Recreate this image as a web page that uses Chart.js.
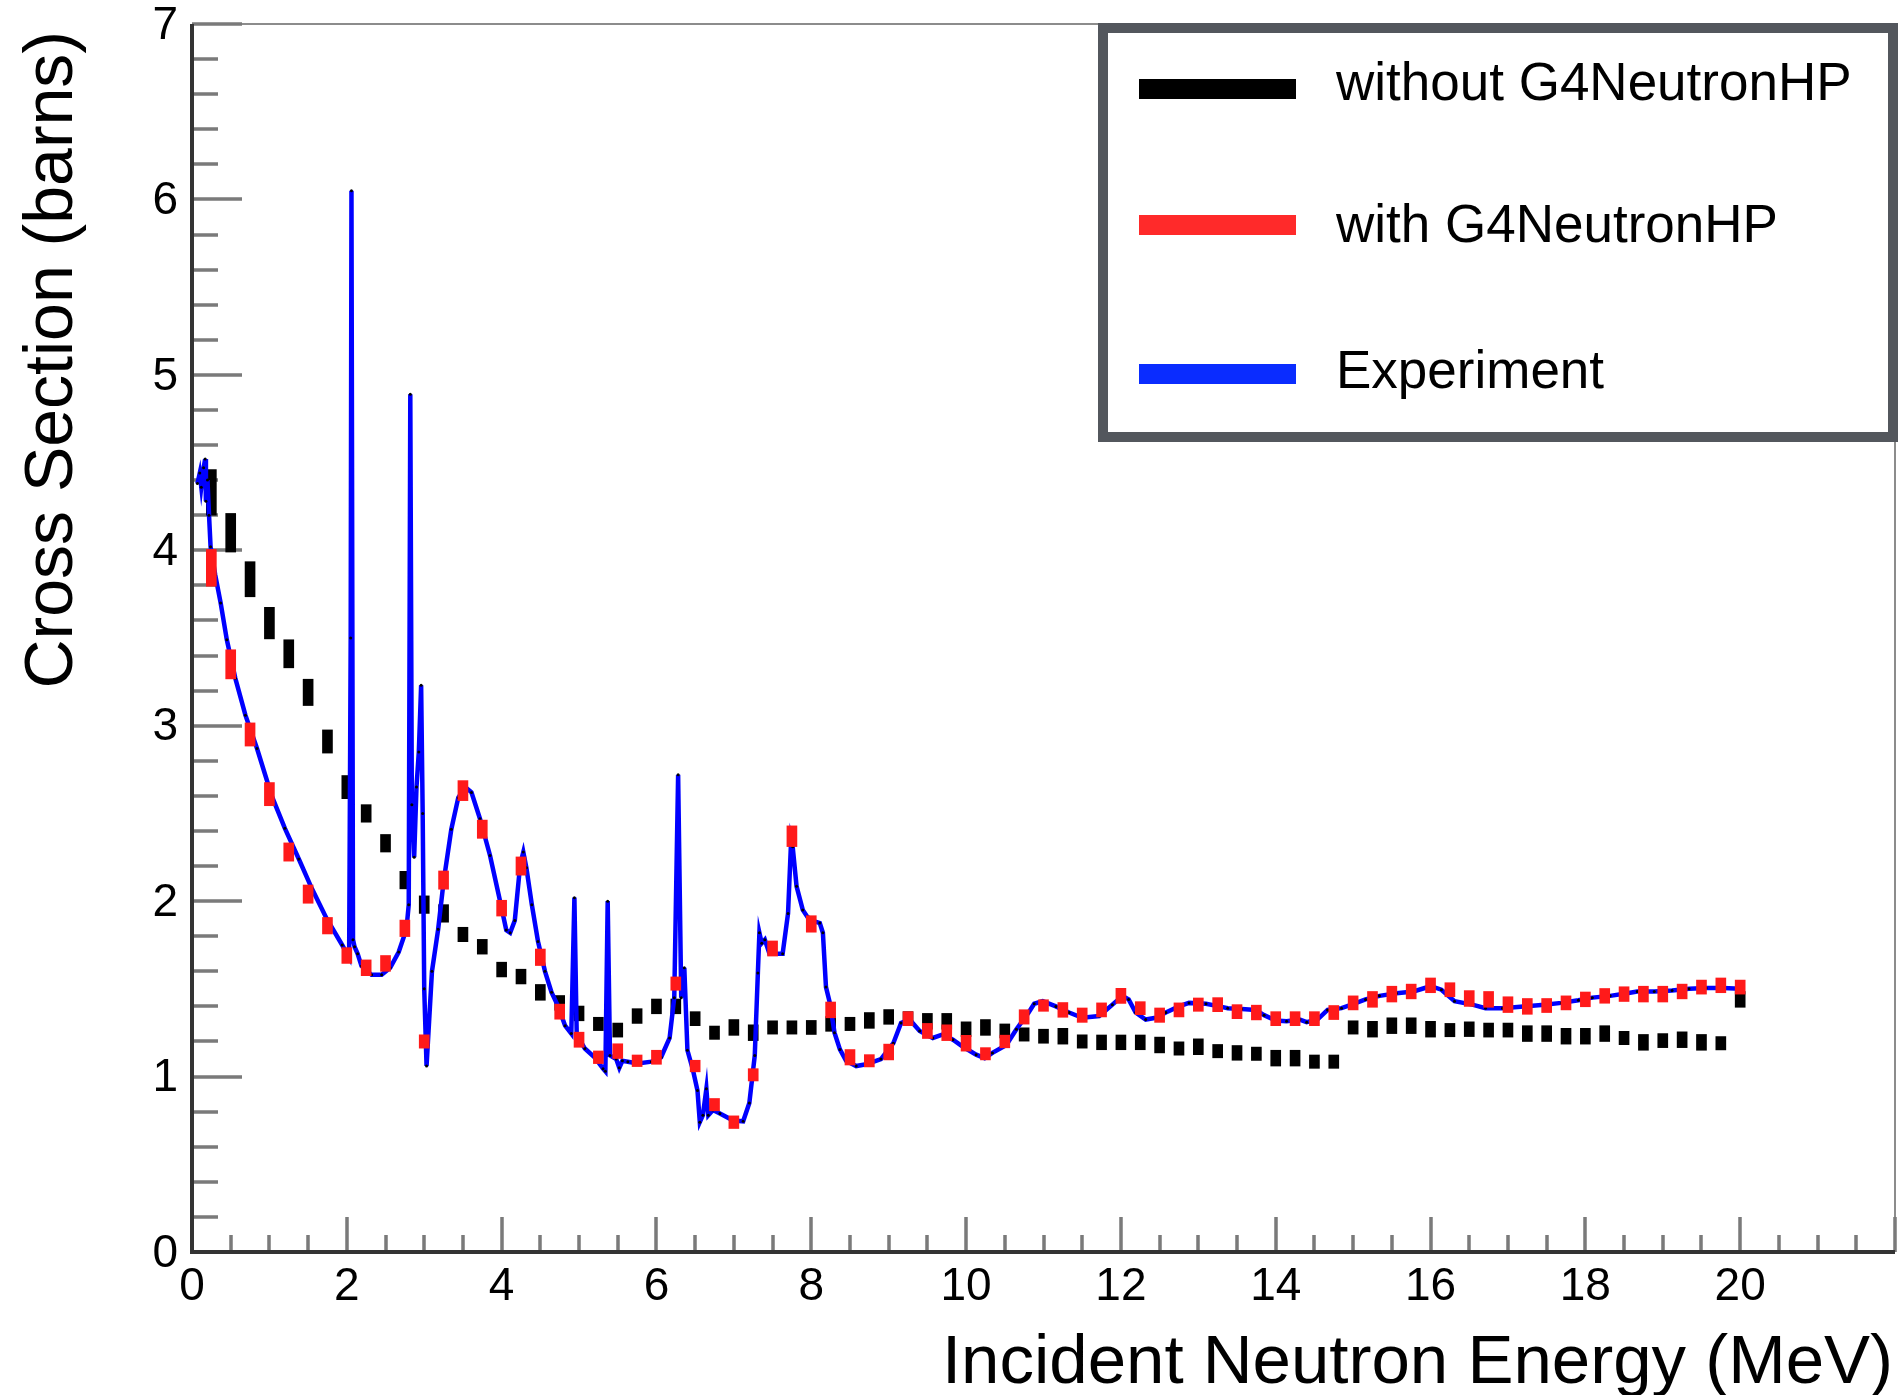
<!DOCTYPE html>
<html>
<head>
<meta charset="utf-8">
<title>Cross Section vs Incident Neutron Energy</title>
<script src="https://cdn.jsdelivr.net/npm/chart.js@4.4.0/dist/chart.umd.min.js"></script>
<style>
  html, body { margin: 0; padding: 0; background: #fff; }
  canvas { display: block; }
</style>
</head>
<body>
<canvas id="xsChart" width="1903" height="1395"></canvas>
<script>
// bin centres (MeV) shared by both simulated series
const binE = [
  0.25, 0.5, 0.75, 1.0, 1.25, 1.5, 1.75, 2.0, 2.25, 2.5, 2.75, 3.0, 3.25, 3.5, 3.75, 4.0,
  4.25, 4.5, 4.75, 5.0, 5.25, 5.5, 5.75, 6.0, 6.25, 6.5, 6.75, 7.0, 7.25, 7.5, 7.75, 8.0,
  8.25, 8.5, 8.75, 9.0, 9.25, 9.5, 9.75, 10.0, 10.25, 10.5, 10.75, 11.0, 11.25, 11.5, 11.75, 12.0,
  12.25, 12.5, 12.75, 13.0, 13.25, 13.5, 13.75, 14.0, 14.25, 14.5, 14.75, 15.0, 15.25, 15.5, 15.75, 16.0,
  16.25, 16.5, 16.75, 17.0, 17.25, 17.5, 17.75, 18.0, 18.25, 18.5, 18.75, 19.0, 19.25, 19.5, 19.75, 20.0
];

// without G4NeutronHP (barns) and its errors
const noHpXs = [
  4.33, 4.10, 3.835, 3.585, 3.41, 3.19, 2.91, 2.65, 2.50, 2.33, 2.12, 1.98, 1.93, 1.81, 1.74, 1.61,
  1.57, 1.48, 1.42, 1.36, 1.30, 1.265, 1.345, 1.40, 1.40, 1.33, 1.25, 1.28, 1.25, 1.28, 1.28, 1.28,
  1.30, 1.30, 1.32, 1.34, 1.33, 1.315, 1.315, 1.27, 1.28, 1.26, 1.24, 1.23, 1.23, 1.20, 1.195, 1.195,
  1.195, 1.18, 1.16, 1.17, 1.145, 1.135, 1.13, 1.105, 1.105, 1.085, 1.085, 1.28, 1.27, 1.29, 1.29, 1.27,
  1.265, 1.27, 1.265, 1.265, 1.245, 1.245, 1.23, 1.23, 1.245, 1.22, 1.195, 1.205, 1.21, 1.195, 1.19, 1.44
];
const noHpErr = [
  0.13, 0.11, 0.10, 0.09, 0.08, 0.075, 0.066, 0.066, 0.05, 0.05, 0.05, 0.05, 0.05, 0.041, 0.042, 0.042,
  0.042, 0.045, 0.042, 0.042, 0.038, 0.04, 0.042, 0.042, 0.042, 0.04, 0.038, 0.045, 0.045, 0.038, 0.038, 0.04,
  0.042, 0.038, 0.045, 0.042, 0.04, 0.045, 0.045, 0.042, 0.045, 0.04, 0.038, 0.04, 0.045, 0.038, 0.042, 0.042,
  0.042, 0.045, 0.038, 0.045, 0.038, 0.042, 0.038, 0.045, 0.045, 0.038, 0.038, 0.038, 0.045, 0.045, 0.045, 0.045,
  0.038, 0.042, 0.04, 0.04, 0.045, 0.045, 0.045, 0.045, 0.045, 0.038, 0.045, 0.04, 0.045, 0.045, 0.038, 0.045
];

// with G4NeutronHP (barns) and its errors
const hpXs = [
  3.90, 3.35, 2.95, 2.61, 2.28, 2.04, 1.86, 1.69, 1.62, 1.645, 1.845, 1.20, 2.12, 2.63, 2.41, 1.96,
  2.20, 1.68, 1.37, 1.21, 1.11, 1.145, 1.09, 1.11, 1.53, 1.06, 0.84, 0.74, 1.01, 1.73, 2.37, 1.87,
  1.38, 1.11, 1.09, 1.14, 1.33, 1.26, 1.25, 1.19, 1.13, 1.20, 1.34, 1.405, 1.38, 1.35, 1.38, 1.46,
  1.39, 1.35, 1.38, 1.41, 1.41, 1.37, 1.365, 1.33, 1.33, 1.33, 1.365, 1.42, 1.44, 1.47, 1.485, 1.52,
  1.495, 1.445, 1.44, 1.41, 1.40, 1.405, 1.42, 1.44, 1.46, 1.47, 1.47, 1.47, 1.485, 1.51, 1.52, 1.51
];
const hpErr = [
  0.105, 0.083, 0.066, 0.066, 0.052, 0.052, 0.047, 0.045, 0.045, 0.045, 0.047, 0.038, 0.052, 0.057, 0.052, 0.045,
  0.052, 0.047, 0.043, 0.043, 0.036, 0.042, 0.033, 0.04, 0.038, 0.033, 0.035, 0.036, 0.035, 0.043, 0.059, 0.047,
  0.045, 0.044, 0.035, 0.045, 0.04, 0.043, 0.045, 0.045, 0.035, 0.036, 0.041, 0.033, 0.042, 0.041, 0.04, 0.043,
  0.037, 0.041, 0.04, 0.038, 0.04, 0.04, 0.042, 0.04, 0.04, 0.04, 0.04, 0.04, 0.045, 0.045, 0.042, 0.042,
  0.04, 0.045, 0.045, 0.045, 0.045, 0.04, 0.04, 0.042, 0.042, 0.042, 0.045, 0.045, 0.042, 0.04, 0.042, 0.04
];

// measured cross section
const expE = [
  0.07, 0.10, 0.12, 0.15, 0.17, 0.18, 0.20, 0.22, 0.24, 0.30, 0.37, 0.45, 0.56, 0.69, 0.84, 1.03,
  1.20, 1.38, 1.55, 1.74, 1.94, 2.03, 2.05, 2.06, 2.08, 2.10, 2.14, 2.19, 2.32, 2.45, 2.56, 2.67,
  2.77, 2.80, 2.82, 2.84, 2.87, 2.90, 2.93, 2.96, 2.98, 3.00, 3.03, 3.10, 3.18, 3.25, 3.35, 3.44,
  3.53, 3.61, 3.72, 3.85, 3.98, 4.06, 4.11, 4.17, 4.24, 4.28, 4.32, 4.39, 4.47, 4.56, 4.645, 4.73,
  4.82, 4.90, 4.94, 4.97, 5.075, 5.20, 5.31, 5.34, 5.37, 5.40, 5.48, 5.52, 5.56, 5.63, 5.76, 5.935,
  6.06, 6.17, 6.23, 6.28, 6.32, 6.36, 6.40, 6.47, 6.53, 6.56, 6.60, 6.645, 6.67, 6.73, 6.82, 6.99,
  7.12, 7.20, 7.27, 7.31, 7.33, 7.36, 7.40, 7.46, 7.63, 7.70, 7.74, 7.76, 7.81, 7.89, 7.95, 8.04,
  8.11, 8.15, 8.19, 8.24, 8.30, 8.37, 8.45, 8.58, 8.71, 8.90, 9.06, 9.16, 9.27, 9.40, 9.57, 9.70,
  9.83, 9.96, 10.13, 10.24, 10.34, 10.52, 10.65, 10.80, 10.88, 10.99, 11.16, 11.33, 11.50, 11.72, 11.89, 12.02,
  12.10, 12.19, 12.32, 12.45, 12.58, 12.75, 12.88, 13.10, 13.27, 13.38, 13.56, 13.74, 13.85, 14.00, 14.14, 14.31,
  14.40, 14.54, 14.67, 14.85, 14.98, 15.16, 15.34, 15.56, 15.78, 16.00, 16.14, 16.31, 16.54, 16.71, 16.93, 17.20,
  17.47, 17.69, 17.91, 18.09, 18.32, 18.54, 18.67, 18.89, 19.12, 19.34, 19.56, 19.78, 20.00
];
const expXs = [
  4.38, 4.44, 4.36, 4.47, 4.52, 4.28, 4.40, 4.20, 4.02, 3.86, 3.70, 3.49, 3.27, 3.06, 2.87, 2.60,
  2.415, 2.24, 2.07, 1.90, 1.75, 1.68, 3.50, 6.05, 1.78, 1.74, 1.70, 1.63, 1.58, 1.58, 1.62, 1.71,
  1.84, 1.98, 4.89, 2.55, 2.25, 2.65, 2.85, 3.23, 2.50, 1.50, 1.06, 1.60, 1.84, 2.11, 2.41, 2.59,
  2.65, 2.62, 2.47, 2.26, 2.00, 1.835, 1.82, 1.89, 2.21, 2.28, 2.19, 1.98, 1.77, 1.60, 1.48, 1.40,
  1.29, 1.245, 2.02, 1.24, 1.16, 1.11, 1.045, 1.03, 2.00, 1.12, 1.10, 1.05, 1.09, 1.085, 1.075, 1.085,
  1.11, 1.22, 1.45, 2.72, 1.45, 1.62, 1.15, 1.04, 0.92, 0.74, 0.78, 0.93, 0.78, 0.81, 0.79, 0.75,
  0.745, 0.85, 1.12, 1.59, 1.82, 1.76, 1.78, 1.70, 1.70, 1.93, 2.35, 2.31, 2.085, 1.95, 1.91, 1.885,
  1.875, 1.82, 1.51, 1.42, 1.25, 1.155, 1.09, 1.06, 1.07, 1.10, 1.19, 1.305, 1.325, 1.26, 1.22, 1.24,
  1.21, 1.17, 1.125, 1.105, 1.135, 1.18, 1.27, 1.36, 1.415, 1.43, 1.40, 1.365, 1.335, 1.345, 1.41, 1.46,
  1.44, 1.365, 1.325, 1.335, 1.365, 1.40, 1.42, 1.415, 1.40, 1.39, 1.385, 1.38, 1.35, 1.32, 1.315, 1.325,
  1.31, 1.325, 1.38, 1.39, 1.41, 1.44, 1.46, 1.475, 1.485, 1.515, 1.495, 1.43, 1.41, 1.39, 1.39, 1.40,
  1.41, 1.42, 1.435, 1.45, 1.46, 1.475, 1.485, 1.485, 1.49, 1.50, 1.505, 1.505, 1.50
];

const xMajorTicks = [0, 2, 4, 6, 8, 10, 12, 14, 16, 18, 20];
const yMajorTicks = [0, 1, 2, 3, 4, 5, 6, 7];

const seriesLabels = ['without G4NeutronHP', 'with G4NeutronHP', 'Experiment'];
const keyColours = ['#000000', '#ff2a2a', '#0a2cff'];
const xTitle = 'Incident Neutron Energy (MeV)';
const yTitle = 'Cross Section (barns)';

const FONT = "'Liberation Sans', Arial, Helvetica, sans-serif";
Chart.defaults.font.family = FONT;
Chart.defaults.color = '#000';

// error bars as floating bars [v - err, v + err]
const errBars = (vals, errs) => binE.map((e, i) => ({ x: e, y: [vals[i] - errs[i], vals[i] + errs[i]] }));

// ROOT-like frame: inward ticks, dark axes, thin grey top/right, labels, boxed key
const rootFrame = {
  id: 'rootFrame',
  beforeDatasetsDraw(chart) {
    const { ctx, chartArea: { left, right, top, bottom }, scales: { x, y } } = chart;
    ctx.save();
    ctx.strokeStyle = '#8c8c8c';
    ctx.lineWidth = 2;
    ctx.beginPath();
    ctx.moveTo(left, top);
    ctx.lineTo(right, top);
    ctx.lineTo(right, bottom);
    ctx.stroke();

    // 5 divisions per unit on y, 4 per 2 MeV on x
    ctx.strokeStyle = '#7a7a7a';
    ctx.lineWidth = 3.5;
    ctx.beginPath();
    for (let i = 0; i <= 35; i++) {
      const py = Math.round(y.getPixelForValue(i / 5));
      const len = i % 5 === 0 ? 50 : 26;
      ctx.moveTo(left, py);
      ctx.lineTo(left + len, py);
    }
    for (let i = 0; i <= 44; i++) {
      const px = Math.round(x.getPixelForValue(i / 2));
      const len = i % 4 === 0 ? 35 : 17;
      ctx.moveTo(px, bottom);
      ctx.lineTo(px, bottom - len);
    }
    ctx.stroke();

    ctx.strokeStyle = '#333';
    ctx.lineWidth = 4;
    ctx.beginPath();
    ctx.moveTo(left, top);
    ctx.lineTo(left, bottom);
    ctx.lineTo(right, bottom);
    ctx.stroke();

    // tick labels
    ctx.fillStyle = '#000';
    ctx.font = '46px ' + FONT;
    ctx.textBaseline = 'middle';
    ctx.textAlign = 'right';
    yMajorTicks.forEach(v => ctx.fillText(String(v), left - 14, y.getPixelForValue(v) + 2));
    ctx.textAlign = 'center';
    xMajorTicks.forEach(v => ctx.fillText(String(v), x.getPixelForValue(v), bottom + 35));

    // axis titles, both pushed to the far end of their axis
    ctx.textBaseline = 'alphabetic';
    ctx.textAlign = 'right';
    ctx.font = '69px ' + FONT;
    ctx.fillText(xTitle, right - 2, bottom + 131);
    ctx.translate(72, top + 7);
    ctx.rotate(-Math.PI / 2);
    ctx.font = '68px ' + FONT;
    ctx.fillText(yTitle, 0, 0);
    ctx.restore();
  },
  afterDraw(chart) {
    const { ctx } = chart;
    ctx.save();
    ctx.fillStyle = '#fff';
    ctx.fillRect(1103, 28, 790, 409);
    ctx.strokeStyle = '#53575d';
    ctx.lineWidth = 10;
    ctx.strokeRect(1103, 28, 790, 409);

    const swatchY = [89, 225, 374];
    const textY = [100, 242, 388];
    ctx.font = '53px ' + FONT;
    ctx.textAlign = 'left';
    ctx.textBaseline = 'alphabetic';
    seriesLabels.forEach((label, i) => {
      ctx.fillStyle = keyColours[i];
      ctx.fillRect(1139, swatchY[i] - 10, 157, 20);
      ctx.fillStyle = '#000';
      ctx.fillText(label, 1336, textY[i]);
    });
    ctx.restore();
  }
};

new Chart(document.getElementById('xsChart'), {
  type: 'line',
  data: {
    datasets: [
      {
        type: 'bar',
        label: seriesLabels[0],
        data: errBars(noHpXs, noHpErr),
        backgroundColor: '#000',
        barThickness: 10,
        grouped: false,
        borderWidth: 0,
        order: 3
      },
      {
        type: 'bar',
        label: seriesLabels[1],
        data: errBars(hpXs, hpErr),
        backgroundColor: '#ff1a1a',
        barThickness: 10,
        grouped: false,
        borderWidth: 0,
        order: 1
      },
      {
        type: 'line',
        label: seriesLabels[2],
        data: expE.map((e, i) => ({ x: e, y: expXs[i] })),
        borderColor: '#0000ff',
        borderWidth: 4.5,
        pointRadius: 1.5,
        pointBorderWidth: 0,
        pointBackgroundColor: '#000',
        tension: 0,
        fill: false,
        order: 2
      }
    ]
  },
  options: {
    responsive: false,
    animation: false,
    layout: { padding: { top: 24, right: 8, left: 192, bottom: 143 } },
    scales: {
      x: { type: 'linear', min: 0, max: 22, offset: false, display: false },
      y: { type: 'linear', min: 0, max: 7, display: false }
    },
    plugins: {
      legend: { display: false },
      tooltip: { enabled: false }
    }
  },
  plugins: [rootFrame]
});
</script>
</body>
</html>
